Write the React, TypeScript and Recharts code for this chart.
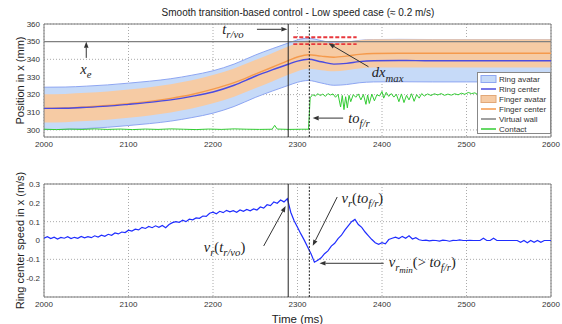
import React from 'react';
import {
  ComposedChart,
  Line,
  Area,
  XAxis,
  YAxis,
  CartesianGrid,
  ReferenceLine,
  ReferenceArea,
  ReferenceDot,
} from 'recharts';

const timeTicks = [2000, 2100, 2200, 2300, 2400, 2500, 2600];
const positionTicks = [300, 310, 320, 330, 340, 350, 360];
const speedTicks = [-0.2, -0.1, 0, 0.1, 0.2, 0.3];

// position plot (mm), sampled where the curves bend
const positionTimes = [2000, 2025, 2050, 2075, 2100, 2125, 2150, 2175, 2200, 2225, 2250, 2270, 2289, 2300, 2313, 2328, 2343, 2358, 2373, 2390, 2420, 2460, 2500, 2550, 2600];
const ringCenter = [312.2, 312.3, 312.8, 313.5, 314.5, 315.6, 317.0, 319.0, 321.5, 325.3, 330.4, 334.0, 337.2, 339.0, 340.0, 338.6, 337.3, 337.7, 338.7, 339.2, 339.3, 339.2, 339.2, 339.2, 339.2];
const fingerCenter = [312.2, 312.4, 313.0, 313.8, 314.9, 316.2, 317.9, 320.1, 323.1, 326.8, 331.6, 335.5, 339.3, 341.3, 342.6, 341.8, 341.2, 341.8, 342.8, 343.3, 343.4, 343.4, 343.4, 343.4, 343.4];
// avatar half sizes (mm)
const ringHalfSize = 12;
const fingerHalfSize = 8;

const wallLevel = 350;
const wallSpan = [2000, 2600];

// contact position [time, mm]
const contactPoints: [number, number][] = [
  [2000, 300.4], [2015, 300.2], [2030, 300.5], [2045, 300.3], [2060, 300.6], [2075, 300.3], [2090, 300.5],
  [2105, 300.2], [2120, 300.5], [2135, 300.3], [2150, 300.6], [2165, 300.4], [2180, 300.2], [2195, 300.5],
  [2210, 300.3], [2225, 300.6], [2240, 300.4], [2255, 300.3], [2270, 300.4], [2273, 302.6], [2276, 300.5],
  [2290, 300.3], [2305, 300.4], [2313, 300.4], [2315, 318.2], [2318, 320.0], [2321, 319.2], [2324, 320.5],
  [2327, 319.5], [2330, 320.3], [2333, 319.0], [2336, 320.6], [2339, 319.8], [2342, 320.4], [2345, 318.5],
  [2348, 320.2], [2351, 313.0], [2353, 319.5], [2355, 311.5], [2357, 318.8], [2359, 312.5], [2361, 319.6],
  [2363, 316.0], [2366, 320.0], [2369, 318.5], [2372, 320.4], [2375, 317.0], [2378, 320.1], [2381, 314.5],
  [2383, 319.8], [2385, 315.0], [2388, 320.3], [2391, 316.5], [2394, 320.0], [2397, 319.2], [2400, 321.8],
  [2402, 318.0], [2405, 321.3], [2408, 319.0], [2411, 320.6], [2414, 318.6], [2417, 320.2], [2420, 316.0],
  [2423, 320.4], [2426, 315.5], [2429, 319.6], [2432, 317.0], [2435, 320.5], [2438, 316.2], [2441, 320.0],
  [2444, 318.0], [2447, 320.6], [2450, 319.2], [2454, 320.4], [2458, 319.5], [2462, 320.5], [2466, 319.8],
  [2470, 320.6], [2474, 319.6], [2478, 320.3], [2482, 319.7], [2486, 320.5], [2490, 319.9], [2494, 320.8],
  [2498, 320.2], [2502, 321.2], [2506, 320.6], [2510, 321.0], [2514, 319.8], [2518, 320.4], [2522, 319.2],
  [2526, 320.5], [2530, 318.5], [2534, 320.2], [2538, 319.6], [2542, 320.4], [2546, 319.8], [2550, 320.3],
  [2554, 319.6], [2558, 320.5], [2562, 319.7], [2566, 320.2], [2570, 319.5], [2574, 320.4], [2578, 319.9],
  [2582, 320.6], [2586, 319.8], [2590, 320.3], [2594, 319.7], [2600, 320.1],
];

// ring center speed [time, m/s]
const speedPoints: [number, number][] = [
  [2000, 0.012], [2004, 0.02], [2008, 0.01], [2012, 0.018], [2016, 0.008], [2020, 0.016], [2024, 0.012],
  [2028, 0.02], [2032, 0.01], [2036, 0.017], [2040, 0.012], [2044, 0.022], [2048, 0.014], [2052, 0.02],
  [2056, 0.015], [2060, 0.025], [2064, 0.018], [2068, 0.028], [2072, 0.022], [2076, 0.033], [2080, 0.028],
  [2084, 0.04], [2088, 0.035], [2092, 0.045], [2096, 0.042], [2100, 0.055], [2104, 0.05], [2108, 0.06],
  [2112, 0.056], [2116, 0.07], [2120, 0.064], [2124, 0.075], [2128, 0.068], [2132, 0.078], [2136, 0.07],
  [2140, 0.08], [2144, 0.068], [2148, 0.085], [2152, 0.095], [2156, 0.1], [2160, 0.096], [2164, 0.108],
  [2168, 0.1], [2172, 0.113], [2176, 0.11], [2180, 0.12], [2184, 0.118], [2188, 0.13], [2192, 0.128],
  [2196, 0.145], [2200, 0.15], [2204, 0.142], [2208, 0.155], [2212, 0.148], [2216, 0.16], [2220, 0.152],
  [2224, 0.158], [2228, 0.15], [2232, 0.162], [2236, 0.155], [2240, 0.165], [2244, 0.158], [2248, 0.168],
  [2252, 0.162], [2256, 0.178], [2260, 0.172], [2264, 0.19], [2268, 0.185], [2272, 0.205], [2276, 0.198],
  [2280, 0.215], [2284, 0.205], [2288, 0.222], [2292, 0.15], [2296, 0.105], [2300, 0.07], [2304, 0.035],
  [2308, 0.002], [2312, -0.035], [2316, -0.07], [2320, -0.115], [2324, -0.105], [2328, -0.092], [2332, -0.07],
  [2336, -0.055], [2340, -0.03], [2344, -0.015], [2348, 0.01], [2352, 0.028], [2356, 0.055], [2360, 0.078],
  [2364, 0.1], [2368, 0.112], [2372, 0.085], [2376, 0.07], [2380, 0.045], [2384, 0.025], [2388, 0.005],
  [2392, -0.012], [2396, -0.02], [2400, -0.012], [2404, -0.018], [2408, 0.005], [2412, 0.012], [2416, 0.018],
  [2420, 0.01], [2424, 0.022], [2428, 0.012], [2432, 0.025], [2436, 0.008], [2440, 0.015], [2444, 0.004],
  [2448, 0.0], [2452, 0.002], [2456, -0.002], [2460, 0.001], [2464, 0.0], [2468, -0.003], [2472, 0.002],
  [2476, 0.0], [2480, -0.004], [2484, 0.001], [2488, 0.0], [2492, 0.003], [2496, 0.0], [2500, 0.0],
  [2504, 0.001], [2508, 0.0], [2512, 0.0], [2516, 0.0], [2520, 0.012], [2524, 0.0], [2528, 0.0],
  [2532, 0.012], [2536, 0.0], [2540, 0.0], [2544, 0.0], [2548, 0.0], [2552, 0.0], [2556, 0.0],
  [2560, 0.0], [2564, -0.01], [2568, 0.0], [2572, -0.012], [2576, 0.0], [2580, -0.01], [2584, 0.0],
  [2588, -0.01], [2592, 0.0], [2596, 0.0], [2600, 0.0],
];

// event times (ms)
const tRvo = 2289;
const toFr = 2314;

const C = {
  ringFill: '#c6daf8',
  ringEdge: '#8ea6f2',
  ringLine: '#4b4be0',
  fingerFill: '#f6cba4',
  fingerLine: '#f59a4c',
  wall: '#808080',
  contact: '#33cc33',
  speed: '#1f2dff',
  grid: '#aaaaaa',
  frame: '#7a7a7a',
  text: '#222',
};

const positionRows = positionTimes.map((t, i) => ({
  t,
  ring: ringCenter[i],
  finger: fingerCenter[i],
  ringBand: [ringCenter[i] - ringHalfSize, ringCenter[i] + ringHalfSize],
  fingerBand: [fingerCenter[i] - fingerHalfSize, fingerCenter[i] + fingerHalfSize],
}));
const contactRows = contactPoints.map(([t, v]) => ({ t, contact: v }));
const wallRows = wallSpan.map((t) => ({ t, wall: wallLevel }));
const speedRows = speedPoints.map(([t, v]) => ({ t, speed: v }));

// math-ish label: lvl 0 = normal, 1 = subscript, 2 = sub-subscript
type Piece = { s: string; lvl?: number; up?: boolean };

function mathLabel(pieces: Piece[], size = 14.5) {
  return (props: any) => {
    const { cx, cy } = props;
    const offs = [0, size * 0.28, size * 0.45];
    const sizes = [size, size * 0.74, size * 0.62];
    let prev = 0;
    return (
      <text x={cx} y={cy} fill={C.text} fontFamily='"Liberation Serif", "DejaVu Serif", serif' fontStyle="italic">
        {pieces.map((p, i) => {
          const lvl = p.lvl ?? 0;
          const dy = offs[lvl] - offs[prev];
          prev = lvl;
          return (
            <tspan key={i} dy={dy} fontSize={sizes[lvl]} fontStyle={p.up ? 'normal' : 'italic'}>
              {p.s}
            </tspan>
          );
        })}
      </text>
    );
  };
}

function Arrow(props: any) {
  const { x1, y1, x2, y2 } = props;
  const a = Math.atan2(y2 - y1, x2 - x1);
  const len = 6;
  const half = 2.3;
  const bx = x2 - len * Math.cos(a);
  const by = y2 - len * Math.sin(a);
  const p1 = `${bx + half * Math.sin(a)},${by - half * Math.cos(a)}`;
  const p2 = `${bx - half * Math.sin(a)},${by + half * Math.cos(a)}`;
  return (
    <g>
      <line x1={x1} y1={y1} x2={bx} y2={by} stroke="#333" strokeWidth={1} />
      <polygon points={`${x2},${y2} ${p1} ${p2}`} fill="#333" />
    </g>
  );
}

function yLabel(text: string) {
  return (props: any) => {
    const vb = props.viewBox;
    const cx = 20;
    const cy = vb.y + vb.height / 2;
    return (
      <text x={cx} y={cy} transform={`rotate(-90 ${cx} ${cy})`} textAnchor="middle" dominantBaseline="central" fontSize={11} fill={C.text}>
        {text}
      </text>
    );
  };
}

const tickStyle = { fontSize: 8, fill: '#333' };

const legendItems = [
  { name: 'Ring avatar', kind: 'box', fill: C.ringFill, stroke: C.ringEdge },
  { name: 'Ring center', kind: 'line', stroke: C.ringLine },
  { name: 'Finger avatar', kind: 'box', fill: C.fingerFill, stroke: '#e2a878' },
  { name: 'Finger center', kind: 'line', stroke: C.fingerLine },
  { name: 'Virtual wall', kind: 'line', stroke: C.wall },
  { name: 'Contact', kind: 'line', stroke: C.contact },
];

export default function App() {
  return (
    <div
      style={{
        position: 'absolute',
        left: 0,
        top: 0,
        width: 562,
        height: 324,
        background: '#fff',
        fontFamily: '"Liberation Sans", Arial, sans-serif',
      }}
    >
      <div style={{ position: 'absolute', left: 0, width: 596, top: 7, textAlign: 'center', fontSize: 10, color: C.text }}>
        Smooth transition-based control - Low speed case (≈ 0.2 m/s)
      </div>

      {/* position plot */}
      <div style={{ position: 'absolute', left: 0, top: 0 }}>
        <ComposedChart width={562} height={152} data={positionRows} margin={{ top: 24, right: 11, bottom: 0, left: 0 }}>
          <CartesianGrid strokeDasharray="1 2" stroke={C.grid} />
          <XAxis
            type="number"
            dataKey="t"
            domain={[2000, 2600]}
            ticks={timeTicks}
            height={15}
            tickLine={false}
            axisLine={false}
            tickSize={2}
            tickMargin={2}
            tick={tickStyle}
            allowDataOverflow
          />
          <YAxis
            type="number"
            domain={[296, 360]}
            ticks={positionTicks}
            width={44}
            tickLine={false}
            axisLine={false}
            tickSize={2}
            tickMargin={2}
            tick={tickStyle}
            allowDataOverflow
            label={yLabel('Position in x (mm)')}
          />
          <Area dataKey="ringBand" type="monotone" fill={C.ringFill} fillOpacity={1} stroke={C.ringEdge} strokeWidth={1} isAnimationActive={false} dot={false} activeDot={false} />
          <Area dataKey="fingerBand" type="monotone" fill={C.fingerFill} fillOpacity={1} stroke="none" isAnimationActive={false} dot={false} activeDot={false} />
          <Line data={wallRows} dataKey="wall" type="linear" stroke={C.wall} strokeWidth={1.3} dot={false} activeDot={false} isAnimationActive={false} />
          <Line dataKey="finger" type="monotone" stroke={C.fingerLine} strokeWidth={1.4} dot={false} activeDot={false} isAnimationActive={false} />
          <Line dataKey="ring" type="monotone" stroke={C.ringLine} strokeWidth={1.4} dot={false} activeDot={false} isAnimationActive={false} />
          <Line data={contactRows} dataKey="contact" type="linear" stroke={C.contact} strokeWidth={1} dot={false} activeDot={false} isAnimationActive={false} />

          <ReferenceLine segment={[{ x: 2295, y: 352.5 }, { x: 2370, y: 352.5 }]} stroke="#e8383d" strokeWidth={1.8} strokeDasharray="4 2" />
          <ReferenceLine segment={[{ x: 2295, y: 348.6 }, { x: 2370, y: 348.6 }]} stroke="#e8383d" strokeWidth={1.8} strokeDasharray="4 2" />
          <ReferenceLine x={tRvo} stroke="#222" strokeWidth={1} />
          <ReferenceLine x={toFr} stroke="#222" strokeWidth={1} strokeDasharray="2 1.5" />

          <ReferenceLine segment={[{ x: 2050, y: 340.8 }, { x: 2050, y: 350 }]} shape={Arrow} />
          <ReferenceLine segment={[{ x: 2252, y: 357 }, { x: 2288, y: 357 }]} shape={Arrow} />
          <ReferenceLine segment={[{ x: 2384, y: 335.8 }, { x: 2337, y: 349 }]} shape={Arrow} />
          <ReferenceLine segment={[{ x: 2354, y: 306.7 }, { x: 2318, y: 306.7 }]} shape={Arrow} />

          <ReferenceDot x={2043} y={331.7} r={0} shape={mathLabel([{ s: 'x' }, { s: 'e', lvl: 1 }])} />
          <ReferenceDot x={2211} y={354.5} r={0} shape={mathLabel([{ s: 't' }, { s: 'r/vo', lvl: 1 }])} />
          <ReferenceDot x={2388} y={329.7} r={0} shape={mathLabel([{ s: 'dx' }, { s: 'max', lvl: 1 }])} />
          <ReferenceDot x={2360} y={304.1} r={0} shape={mathLabel([{ s: 'to' }, { s: 'f/r', lvl: 1 }])} />

          <ReferenceArea x1={2000} x2={2600} y1={296} y2={360} fill="none" stroke={C.frame} strokeWidth={1} />
        </ComposedChart>
      </div>

      {/* legend */}
      <div
        style={{
          position: 'absolute',
          left: 477,
          top: 72,
          width: 74,
          height: 62,
          border: '1px solid #888',
          background: '#fff',
          boxSizing: 'border-box',
          paddingTop: 1,
        }}
      >
        {legendItems.map((it) => (
          <div key={it.name} style={{ display: 'flex', alignItems: 'center', height: 10, fontSize: 8, color: '#333' }}>
            <svg width={18} height={10} style={{ marginLeft: 2, marginRight: 1 }}>
              {it.kind === 'box' ? (
                <rect x={1} y={1.5} width={15} height={7} fill={it.fill} stroke={it.stroke} strokeWidth={1} />
              ) : (
                <line x1={1} x2={16} y1={5} y2={5} stroke={it.stroke} strokeWidth={1.5} />
              )}
            </svg>
            <span>{it.name}</span>
          </div>
        ))}
      </div>

      {/* speed plot */}
      <div style={{ position: 'absolute', left: 0, top: 160 }}>
        <ComposedChart width={562} height={164} data={speedRows} margin={{ top: 24, right: 11, bottom: 0, left: 0 }}>
          <CartesianGrid strokeDasharray="1 2" stroke={C.grid} />
          <XAxis
            type="number"
            dataKey="t"
            domain={[2000, 2600]}
            ticks={timeTicks}
            height={27}
            tickLine={false}
            axisLine={false}
            tickSize={2}
            tickMargin={2}
            tick={tickStyle}
            allowDataOverflow
            label={{ value: 'Time (ms)', position: 'insideBottom', offset: 1, fontSize: 11.5, fill: C.text }}
          />
          <YAxis
            type="number"
            domain={[-0.3, 0.3]}
            ticks={speedTicks}
            width={44}
            tickLine={false}
            axisLine={false}
            tickSize={2}
            tickMargin={2}
            tick={tickStyle}
            allowDataOverflow
            label={yLabel('Ring center speed in x (m/s)')}
          />
          <Line dataKey="speed" type="linear" stroke={C.speed} strokeWidth={1.2} dot={false} activeDot={false} isAnimationActive={false} />

          <ReferenceLine x={tRvo} stroke="#222" strokeWidth={1} />
          <ReferenceLine x={toFr} stroke="#222" strokeWidth={1} strokeDasharray="2 1.5" />

          <ReferenceLine segment={[{ x: 2260, y: -0.029 }, { x: 2286, y: 0.183 }]} shape={Arrow} />
          <ReferenceLine segment={[{ x: 2347, y: 0.231 }, { x: 2318, y: -0.028 }]} shape={Arrow} />
          <ReferenceLine segment={[{ x: 2402, y: -0.121 }, { x: 2326, y: -0.121 }]} shape={Arrow} />

          <ReferenceDot
            x={2189}
            y={-0.061}
            r={0}
            shape={mathLabel([{ s: 'v' }, { s: 'r', lvl: 1 }, { s: '(', up: true }, { s: 't' }, { s: 'r/vo', lvl: 1 }, { s: ')', up: true }])}
          />
          <ReferenceDot
            x={2352}
            y={0.199}
            r={0}
            shape={mathLabel([{ s: 'v' }, { s: 'r', lvl: 1 }, { s: '(', up: true }, { s: 'to' }, { s: 'f/r', lvl: 1 }, { s: ')', up: true }])}
          />
          <ReferenceDot
            x={2408}
            y={-0.139}
            r={0}
            shape={mathLabel([
              { s: 'v' },
              { s: 'r', lvl: 1 },
              { s: 'min', lvl: 2 },
              { s: '(> ', up: true },
              { s: 'to' },
              { s: 'f/r', lvl: 1 },
              { s: ')', up: true },
            ])}
          />

          <ReferenceArea x1={2000} x2={2600} y1={-0.3} y2={0.3} fill="none" stroke={C.frame} strokeWidth={1} />
        </ComposedChart>
      </div>
    </div>
  );
}
